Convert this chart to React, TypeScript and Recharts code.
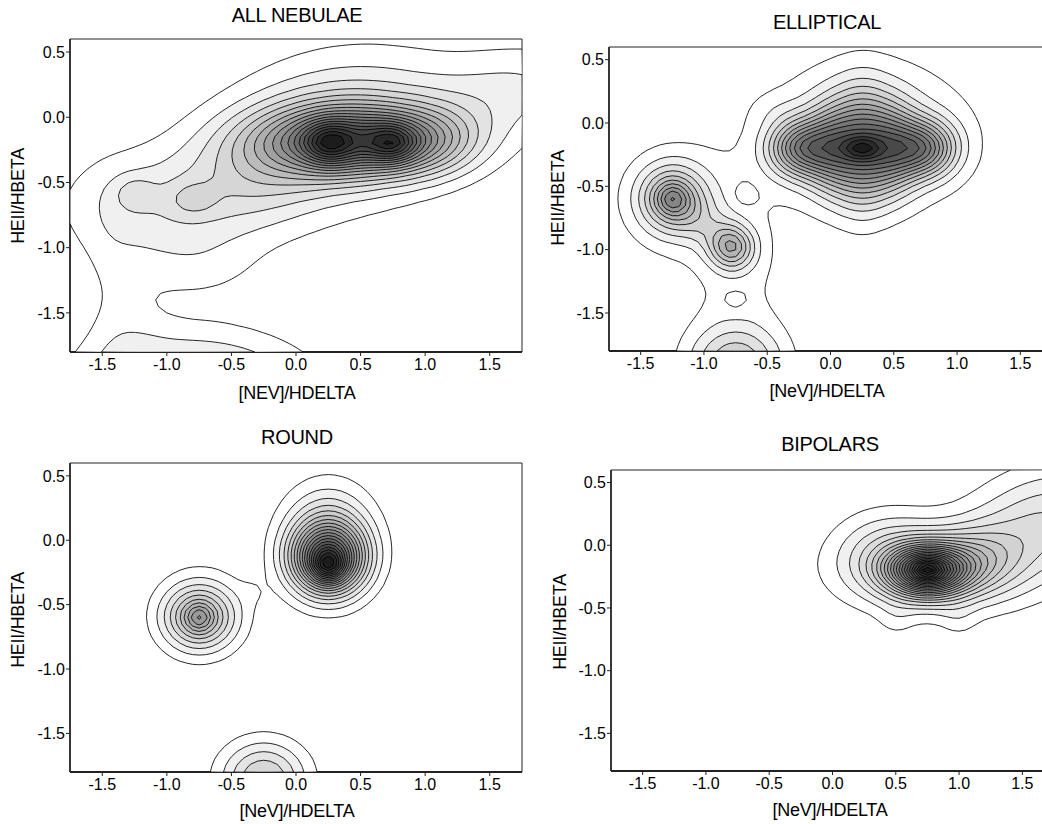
import React from 'react'
import { ScatterChart, Scatter, XAxis, YAxis } from 'recharts'

// blob = [x, y, sigmaX, sigmaY, angleDeg, amplitude]  (density lumps)
type Blob = [number, number, number, number, number, number]

const xTicks = [-1.5, -1, -0.5, 0, 0.5, 1, 1.5]
const yTicks = [0.5, 0, -0.5, -1, -1.5]
const xDomain: [number, number] = [-1.75, 1.75]
const yDomain: [number, number] = [-1.8, 0.6]

const allNebulaeBlobs: Blob[] = [
    [0.45, -0.18, 0.5, 0.18, 0, 0.66],
    [0.25, -0.2, 0.13, 0.11, 0, 0.27],
    [0.75, -0.2, 0.13, 0.1, 0, 0.28],
    [1.05, -0.18, 0.25, 0.18, 0, 0.12],
    [0.35, -0.1, 0.62, 0.38, 10, 0.25],
    [1.7, 0.2, 0.45, 0.24, 10, 0.12],
    [-1.0, -0.68, 0.55, 0.3, 0, 0.16],
    [-1.25, -0.58, 0.11, 0.09, 0, 0.08],
    [-0.8, -0.63, 0.13, 0.09, 0, 0.08],
    [-0.3, -0.45, 0.35, 0.25, 0, 0.1],
    [-1.3, -1.75, 0.2, 0.45, 0, 0.05],
    [-0.8, -2.15, 0.6, 0.32, 0, 0.3],
    [-1.45, -1.15, 0.14, 0.45, 0, 0.025],
    [-0.75, -1.15, 0.35, 0.18, 0, 0.05],
]

const ellipticalBlobs: Blob[] = [
    [-0.24, -0.2, 0.17, 0.15, 0, 0.32],
    [0.02, -0.2, 0.15, 0.23, 0, 0.26],
    [0.25, -0.2, 0.15, 0.3, 0, 0.26],
    [0.48, -0.2, 0.15, 0.23, 0, 0.26],
    [0.74, -0.2, 0.17, 0.15, 0, 0.32],
    [0.25, -0.2, 0.1, 0.06, 0, 0.15],
    [0.3, -0.1, 0.55, 0.4, 0, 0.13],
    [-0.45, 0.1, 0.15, 0.1, 0, 0.02],
    [-1.25, -0.6, 0.08, 0.08, 0, 0.1],
    [-1.25, -0.6, 0.17, 0.17, 0, 0.2],
    [-1.25, -0.6, 0.3, 0.3, 0, 0.09],
    [-0.78, -0.98, 0.12, 0.12, 0, 0.22],
    [-1.0, -0.8, 0.25, 0.12, -39, 0.06],
    [-0.75, -1.9, 0.26, 0.2, 0, 0.18],
    [-0.74, -1.3, 0.3, 0.6, 0, 0.05],
    [-0.68, -0.56, 0.06, 0.06, 0, -0.04],
    [-0.75, -1.4, 0.07, 0.07, 0, -0.03],
]

const roundBlobs: Blob[] = [
    [0.25, -0.15, 0.19, 0.18, 0, 0.5],
    [0.25, -0.2, 0.08, 0.08, 0, 0.2],
    [0.25, 0.0, 0.24, 0.28, 0, 0.22],
    [-0.75, -0.6, 0.19, 0.17, 0, 0.26],
    [-0.75, -0.6, 0.07, 0.07, 0, 0.12],
    [-0.74, -0.55, 0.26, 0.26, 0, 0.06],
    [-0.25, -1.85, 0.23, 0.2, 0, 0.22],
    [-0.33, -0.4, 0.08, 0.08, 0, 0.02],
]

const bipolarBlobs: Blob[] = [
    [0.75, -0.2, 0.07, 0.05, 0, 0.12],
    [0.75, -0.2, 0.21, 0.13, 0, 0.6],
    [0.75, -0.2, 0.45, 0.22, 0, 0.2],
    [1.15, -0.1, 0.22, 0.17, 0, 0.1],
    [1.65, 0.15, 0.45, 0.3, 20, 0.17],
    [0.42, 0.0, 0.28, 0.22, 0, 0.08],
    [0.5, -0.6, 0.1, 0.1, 0, 0.03],
    [1.0, -0.6, 0.1, 0.1, 0, 0.03],
]

const panelTitles = ['ALL NEBULAE', 'ELLIPTICAL', 'ROUND', 'BIPOLARS']
const xTitles = ['[NEV]/HDELTA', '[NeV]/HDELTA', '[NeV]/HDELTA', '[NeV]/HDELTA']
const yTitle = 'HEII/HBETA'
const levelCounts = [18, 16, 19, 23]
const panelBlobs = [allNebulaeBlobs, ellipticalBlobs, roundBlobs, bipolarBlobs]

// page layout: plot frame [left, top, right, bottom] and text centres
const layout = [
    { plot: [70, 39, 522, 352], title: [297, 15], xt: [297, 393], yt: [18, 196] },
    { plot: [609, 47, 1052, 351], title: [827, 22], xt: [827, 391], yt: [558, 198] },
    { plot: [70, 463, 522, 772], title: [297, 437], xt: [297, 811], yt: [18, 620] },
    { plot: [611, 470, 1054, 771], title: [830, 444], xt: [830, 810], yt: [560, 622] },
]

const FONT = "'Liberation Sans', Arial, Helvetica, sans-serif"
const STEP = 0.05

const density = (blobs: Blob[], x: number, y: number) => {
    let v = 0
    for (const [cx, cy, sx, sy, ang, a] of blobs) {
        const t = (ang * Math.PI) / 180
        const dx = x - cx, dy = y - cy
        const u = dx * Math.cos(t) + dy * Math.sin(t)
        const w = -dx * Math.sin(t) + dy * Math.cos(t)
        v += a * Math.exp(-0.5 * ((u * u) / (sx * sx) + (w * w) / (sy * sy)))
    }
    return v
}

// marching squares -> closed loops (grid has a low outer ring so every loop closes)
const contourLoops = (g: Float64Array, xs: number[], ys: number[], L: number) => {
    const nx = xs.length, ny = ys.length
    const adj = new Map<number, number[]>()
    const link = (a: number, b: number) => {
        if (!adj.has(a)) adj.set(a, [])
        if (!adj.has(b)) adj.set(b, [])
        adj.get(a)!.push(b)
        adj.get(b)!.push(a)
    }
    const H = (i: number, j: number) => (j * nx + i) * 2
    const V = (i: number, j: number) => (j * nx + i) * 2 + 1
    for (let j = 0; j < ny - 1; j++) {
        for (let i = 0; i < nx - 1; i++) {
            const va = g[j * nx + i], vb = g[j * nx + i + 1]
            const vc = g[(j + 1) * nx + i + 1], vd = g[(j + 1) * nx + i]
            const A = va >= L, B = vb >= L, C = vc >= L, D = vd >= L
            const e = [H(i, j), V(i + 1, j), H(i, j + 1), V(i, j)]
            const cr: number[] = []
            if (A !== B) cr.push(0)
            if (B !== C) cr.push(1)
            if (C !== D) cr.push(2)
            if (D !== A) cr.push(3)
            if (cr.length === 2) link(e[cr[0]], e[cr[1]])
            else if (cr.length === 4) {
                const mid = (va + vb + vc + vd) / 4 >= L
                if (A !== mid) link(e[3], e[0])
                if (B !== mid) link(e[0], e[1])
                if (C !== mid) link(e[1], e[2])
                if (D !== mid) link(e[2], e[3])
            }
        }
    }
    const pt = (id: number) => {
        const cell = id >> 1
        const i = cell % nx, j = (cell - i) / nx
        const v0 = g[j * nx + i]
        if (id & 1) {
            const v1 = g[(j + 1) * nx + i]
            const t = (L - v0) / (v1 - v0)
            return { x: xs[i], y: ys[j] + t * (ys[j + 1] - ys[j]) }
        }
        const v1 = g[j * nx + i + 1]
        const t = (L - v0) / (v1 - v0)
        return { x: xs[i] + t * (xs[i + 1] - xs[i]), y: ys[j] }
    }
    const seen = new Set<number>()
    const loops: { x: number; y: number }[][] = []
    for (const start of adj.keys()) {
        if (seen.has(start)) continue
        const loop: { x: number; y: number }[] = []
        let prev = -1, cur = start
        for (let guard = 0; guard < 100000; guard++) {
            seen.add(cur)
            loop.push(pt(cur))
            const nb = adj.get(cur)!
            const next = nb[0] !== prev ? nb[0] : nb[1]
            if (next === start || seen.has(next)) break
            prev = cur
            cur = next
        }
        if (loop.length > 2) loops.push(loop)
    }
    return loops
}

const buildLevels = (blobs: Blob[], n: number) => {
    const xs: number[] = [], ys: number[] = []
    const nx = Math.round((xDomain[1] - xDomain[0]) / STEP) + 3
    const ny = Math.round((yDomain[1] - yDomain[0]) / STEP) + 3
    for (let i = 0; i < nx; i++) xs.push(xDomain[0] - STEP + i * STEP)
    for (let j = 0; j < ny; j++) ys.push(yDomain[0] - STEP + j * STEP)
    const g = new Float64Array(nx * ny)
    let max = 0
    for (let j = 0; j < ny; j++) {
        for (let i = 0; i < nx; i++) {
            const edge = i === 0 || j === 0 || i === nx - 1 || j === ny - 1
            const v = edge ? -1 : density(blobs, xs[i], ys[j])
            g[j * nx + i] = v
            if (v > max) max = v
        }
    }
    const out = []
    for (let k = 1; k <= n; k++) {
        const loops = contourLoops(g, xs, ys, (max * k) / (n + 1))
        out.push({ k, points: loops.flat(), lens: loops.map((l) => l.length) })
    }
    return out
}

const bandFill = (k: number, n: number) => {
    if (k === 1) return '#ffffff'
    const v = Math.round(240 - ((k - 2) / (n - 2)) * 212)
    return `rgb(${v},${v},${v})`
}

const ContourPath = (props: any) => {
    const { points, lens, fillColor } = props
    if (!points || !points.length) return null
    let d = ''
    let idx = 0
    for (const len of lens) {
        for (let m = 0; m < len; m++) {
            const p = points[idx + m]
            d += (m === 0 ? 'M' : 'L') + p.x.toFixed(2) + ',' + p.y.toFixed(2)
        }
        d += 'Z'
        idx += len
    }
    return <path d={d} fill={fillColor} fillRule="evenodd" stroke="#000" strokeWidth={0.85} strokeLinejoin="round" />
}

const EmptyShape = () => <g />
const fmt = (v: number) => v.toFixed(1)

const M = { top: 10, right: 10, bottom: 10, left: 10 }
const Y_W = 60, YR_W = 30, XB_H = 40, XT_H = 20

const Label = ({ pos, text, size, rotate }: { pos: number[]; text: string; size: number; rotate?: boolean }) => (
    <div style={{
        position: 'absolute', left: pos[0], top: pos[1], whiteSpace: 'nowrap',
        transform: `translate(-50%, -50%)${rotate ? ' rotate(-90deg)' : ''}`,
        fontFamily: FONT, fontSize: size, color: '#000', letterSpacing: -0.3, lineHeight: 1,
    }}>{text}</div>
)

const Panel = ({ idx }: { idx: number }) => {
    const lay = layout[idx]
    const [l, t, r, b] = lay.plot
    const pw = r - l, ph = b - t
    const n = levelCounts[idx]
    const levels = React.useMemo(() => buildLevels(panelBlobs[idx], n), [idx, n])
    const width = pw + M.left + M.right + Y_W + YR_W
    const height = ph + M.top + M.bottom + XB_H + XT_H
    const tickStyle = { fill: '#000', fontSize: 16, fontFamily: FONT }
    return (
        <>
            <div style={{ position: 'absolute', left: l - M.left - Y_W, top: t - M.top - XT_H }}>
                <ScatterChart width={width} height={height} margin={M}>
                    {levels.map((lv) => (
                        <Scatter key={lv.k} xAxisId="b" yAxisId="l" data={lv.points} isAnimationActive={false}
                            shape={EmptyShape} legendType="none"
                            line={<ContourPath lens={lv.lens} fillColor={bandFill(lv.k, n)} />} />
                    ))}
                    <XAxis xAxisId="b" type="number" dataKey="x" domain={xDomain} allowDataOverflow ticks={xTicks}
                        tickFormatter={fmt} height={XB_H} tickSize={4} tickMargin={3} tick={tickStyle}
                        axisLine={{ stroke: '#222', strokeWidth: 1.8 }} tickLine={{ stroke: '#222' }} />
                    <XAxis xAxisId="t" orientation="top" type="number" dataKey="x" domain={xDomain} allowDataOverflow
                        ticks={xTicks} height={XT_H} tickSize={5} tick={false}
                        axisLine={{ stroke: '#222', strokeWidth: 1 }} tickLine={{ stroke: '#222' }} />
                    <YAxis yAxisId="l" type="number" dataKey="y" domain={yDomain} allowDataOverflow ticks={yTicks}
                        tickFormatter={fmt} width={Y_W} tickSize={4} tickMargin={1} tick={tickStyle}
                        axisLine={{ stroke: '#222', strokeWidth: 1.8 }} tickLine={{ stroke: '#222' }} />
                    <YAxis yAxisId="r" orientation="right" type="number" dataKey="y" domain={yDomain} allowDataOverflow
                        ticks={yTicks} width={YR_W} tickSize={5} tick={false}
                        axisLine={{ stroke: '#222', strokeWidth: 1 }} tickLine={{ stroke: '#222' }} />
                </ScatterChart>
            </div>
            <Label pos={lay.title} text={panelTitles[idx]} size={20} />
            <Label pos={lay.xt} text={xTitles[idx]} size={18} />
            <Label pos={lay.yt} text={yTitle} size={18} rotate />
        </>
    )
}

export default function App() {
    return (
        <div style={{ position: 'absolute', left: 0, top: 0, width: 1042, height: 824, overflow: 'hidden', background: '#fff' }}>
            {[0, 1, 2, 3].map((i) => <Panel key={i} idx={i} />)}
        </div>
    )
}
